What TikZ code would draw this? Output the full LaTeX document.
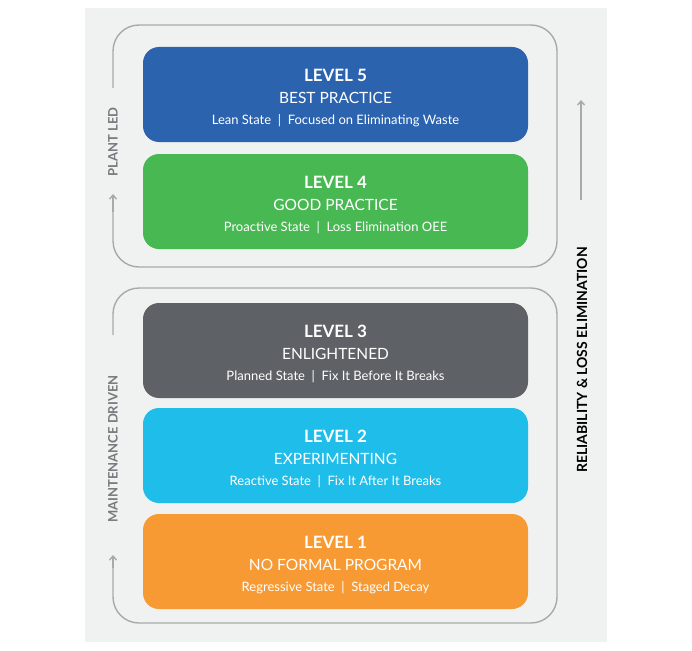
\documentclass[tikz,border=0pt]{standalone}
\usepackage{fontspec}
\setmainfont{Lato}
\usetikzlibrary{arrows.meta, positioning}
\definecolor{panel}{HTML}{F0F1F1}
\definecolor{frame}{HTML}{A8A9AB}
\definecolor{lvblue}{HTML}{2B63AE}
\definecolor{lvgreen}{HTML}{47B852}
\definecolor{lvgray}{HTML}{5E6266}
\definecolor{lvcyan}{HTML}{1FBDEA}
\definecolor{lvorange}{HTML}{F79A33}
\tikzset{
	block/.style={rectangle, rounded corners=16pt, minimum width=385pt, minimum height=95pt, inner sep=0pt},
	line/.style={draw=frame, line width=1.4pt, -{Straight Barb[length=4pt, width=7pt]}}
}

\begin{document}
\begin{tikzpicture}[
	x=1pt, y=-1pt,
	% --- text styles ---
	title/.style={text=white, font=\fontsize{17}{17}\selectfont\bfseries},
	sub/.style={text=white, font=\fontsize{15.5}{15.5}\selectfont},
	detail/.style={text=white, font=\fontsize{13}{13}\selectfont},
	side/.style={rotate=90, font=\fontsize{13}{13}\selectfont\bfseries}
	]
	
	% --- Canvas ---
	\useasboundingbox (0,0) rectangle (692,650);
	\fill[panel] (85,8) rectangle (607,642);
	
	% --- Frames ---
	\draw[frame, line width=1.4pt, rounded corners=26pt] (113,88) -- (113,25) -- (557,25) -- (557,267) -- (113,267) -- (113,200);
	\draw[frame, line width=1.4pt, rounded corners=26pt] (113,335) -- (113,288) -- (557,288) -- (557,623) -- (113,623) -- (113,563);
	\coordinate (pl_a) at (113,212);
	\coordinate (pl_b) at (113,194);
	\coordinate (md_a) at (113,568);
	\coordinate (md_b) at (113,555);
	\draw[line] (pl_a) -- (pl_b);
	\draw[line] (md_a) -- (md_b);
	\node[side, text=lvgray!85] (plant) at (113,142) {PLANT LED};
	\node[side, text=lvgray!85] (maint) at (113,449) {MAINTENANCE DRIVEN};
	
	% --- Right arrow ---
	\coordinate (rel_a) at (581,200);
	\coordinate (rel_b) at (581,100);
	\draw[line] (rel_a) -- (rel_b);
	\node[side, text=black, font=\fontsize{14}{14}\selectfont\bfseries] (rel) at (582,360) {RELIABILITY \& LOSS ELIMINATION};
	
	% --- Levels ---
	\node[block, fill=lvblue] (lvl5) at (335.5,94.5) {};
	\node[block, fill=lvgreen] (lvl4) at (335.5,201.5) {};
	\node[block, fill=lvgray] (lvl3) at (335.5,350.5) {};
	\node[block, fill=lvcyan] (lvl2) at (335.5,455.5) {};
	\node[block, fill=lvorange] (lvl1) at (335.5,561.5) {};
	
	\foreach \n/\s/\d in {5/BEST PRACTICE/Lean State\ \ |\ \ Focused on Eliminating Waste,
		4/GOOD PRACTICE/Proactive State\ \ |\ \ Loss Elimination OEE,
		3/ENLIGHTENED/Planned State\ \ |\ \ Fix It Before It Breaks,
		2/EXPERIMENTING/Reactive State\ \ |\ \ Fix It After It Breaks,
		1/NO FORMAL PROGRAM/Regressive State\ \ |\ \ Staged Decay}{
		\node[title] (t\n) at ([yshift=19pt]lvl\n.center) {LEVEL \n};
		\node[sub] (s\n) at ([yshift=-3pt]lvl\n.center) {\s};
		\node[detail] (d\n) at ([yshift=-26pt]lvl\n.center) {\d};
	}
	
\end{tikzpicture}
\end{document}
